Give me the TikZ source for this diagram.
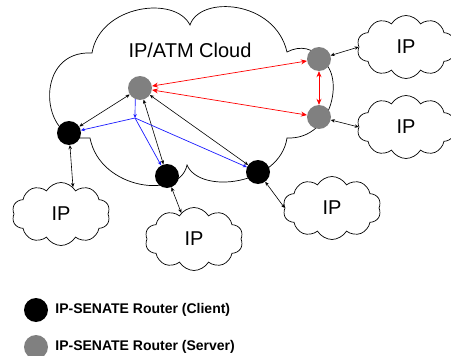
\documentclass[tikz,border=0pt]{standalone}
\usepackage{fontspec}
\setmainfont{Liberation Sans}
\usetikzlibrary{arrows.meta, positioning, shapes.symbols}
\definecolor{srvgrey}{HTML}{808080}
\definecolor{linkred}{HTML}{FF0000}
\definecolor{linkblue}{HTML}{1A1AFF}
\tikzset{
  >={Stealth[length=4pt, width=3.5pt]},
  router/.style={circle, minimum size=24pt, inner sep=0pt},
  client/.style={router, fill=black},
  server/.style={router, fill=srvgrey},
  ipcloud/.style={cloud, cloud puffs=10, cloud puff arc=120, aspect=1.55, draw,
                  line width=0.7pt, minimum width=98pt, minimum height=63pt,
                  inner sep=0pt, font=\fontsize{20}{24}\selectfont},
  link/.style={<->, line width=0.6pt},
  linkb/.style={->, line width=0.7pt, draw=linkblue},
  linkr/.style={<->, line width=0.7pt, draw=linkred, >={Stealth[length=6pt, width=5pt]}},
  lbl/.style={font=\bfseries\fontsize{14}{16}\selectfont, inner sep=0pt},
}
\begin{document}
\begin{tikzpicture}[x=1pt, y=-1pt]
  \useasboundingbox (0,0) rectangle (451,356);
  % ATM core cloud
  \draw[line width=0.7pt] (92,53) .. controls (100,5) and (175,-5) .. (190,25)
    .. controls (200,-5) and (275,0) .. (287,52)
    .. controls (300,45) and (315,48) .. (320,60)
    .. controls (345,70) and (335,140) .. (287,138)
    .. controls (280,185) and (200,195) .. (187,165)
    .. controls (180,200) and (100,190) .. (90,138)
    -- (80,138)
    .. controls (40,135) and (35,50) .. (92,53) -- cycle;
  \node[font=\fontsize{20}{24}\selectfont] (core) at (190,50) {IP/ATM Cloud};
  % routers
  \node[server] (s1) at (140,88) {};
  \node[server] (s2) at (319,59) {};
  \node[server] (s3) at (319,117) {};
  \node[client] (c1) at (69,133) {};
  \node[client] (c2) at (167,176) {};
  \node[client] (c3) at (258,172) {};
  \coordinate (j) at (135,118);
  % access networks
  \node[ipcloud] (ip1) at (406,47) {IP};
  \node[ipcloud] (ip2) at (406,127) {IP};
  \node[ipcloud] (ip3) at (61,214) {IP};
  \node[ipcloud] (ip4) at (194,239) {IP};
  \node[ipcloud] (ip5) at (332,208) {IP};
  % links
  \draw[link] (c1) -- (s1);
  \draw[link] (c2) -- (s1);
  \draw[link] (c3) -- (s1);
  \draw[linkb] (s1.-113) -- (j);
  \foreach \c in {c1,c2,c3} \draw[linkb] (j) -- (\c);
  \draw[linkr] (s1) -- (s2);
  \draw[linkr] (s1) -- (s3);
  \draw[linkr] (s2) -- (s3);
  \draw[link] (s2) -- (ip1.west);
  \draw[link] (s3) -- (ip2.west);
  \draw[link] (c1) -- (ip3.66);
  \draw[link] (c2) -- (ip4.116);
  \draw[link] (c3) -- (ip5.west);
  % legend
  \node[client] (kc) at (36,310) {};
  \node[lbl, right=7pt of kc] (kct) {IP-SENATE Router (Client)};
  \node[server] (ks) at (36,347) {};
  \node[lbl, right=7pt of ks] (kst) {IP-SENATE Router (Server)};
\end{tikzpicture}
\end{document}
